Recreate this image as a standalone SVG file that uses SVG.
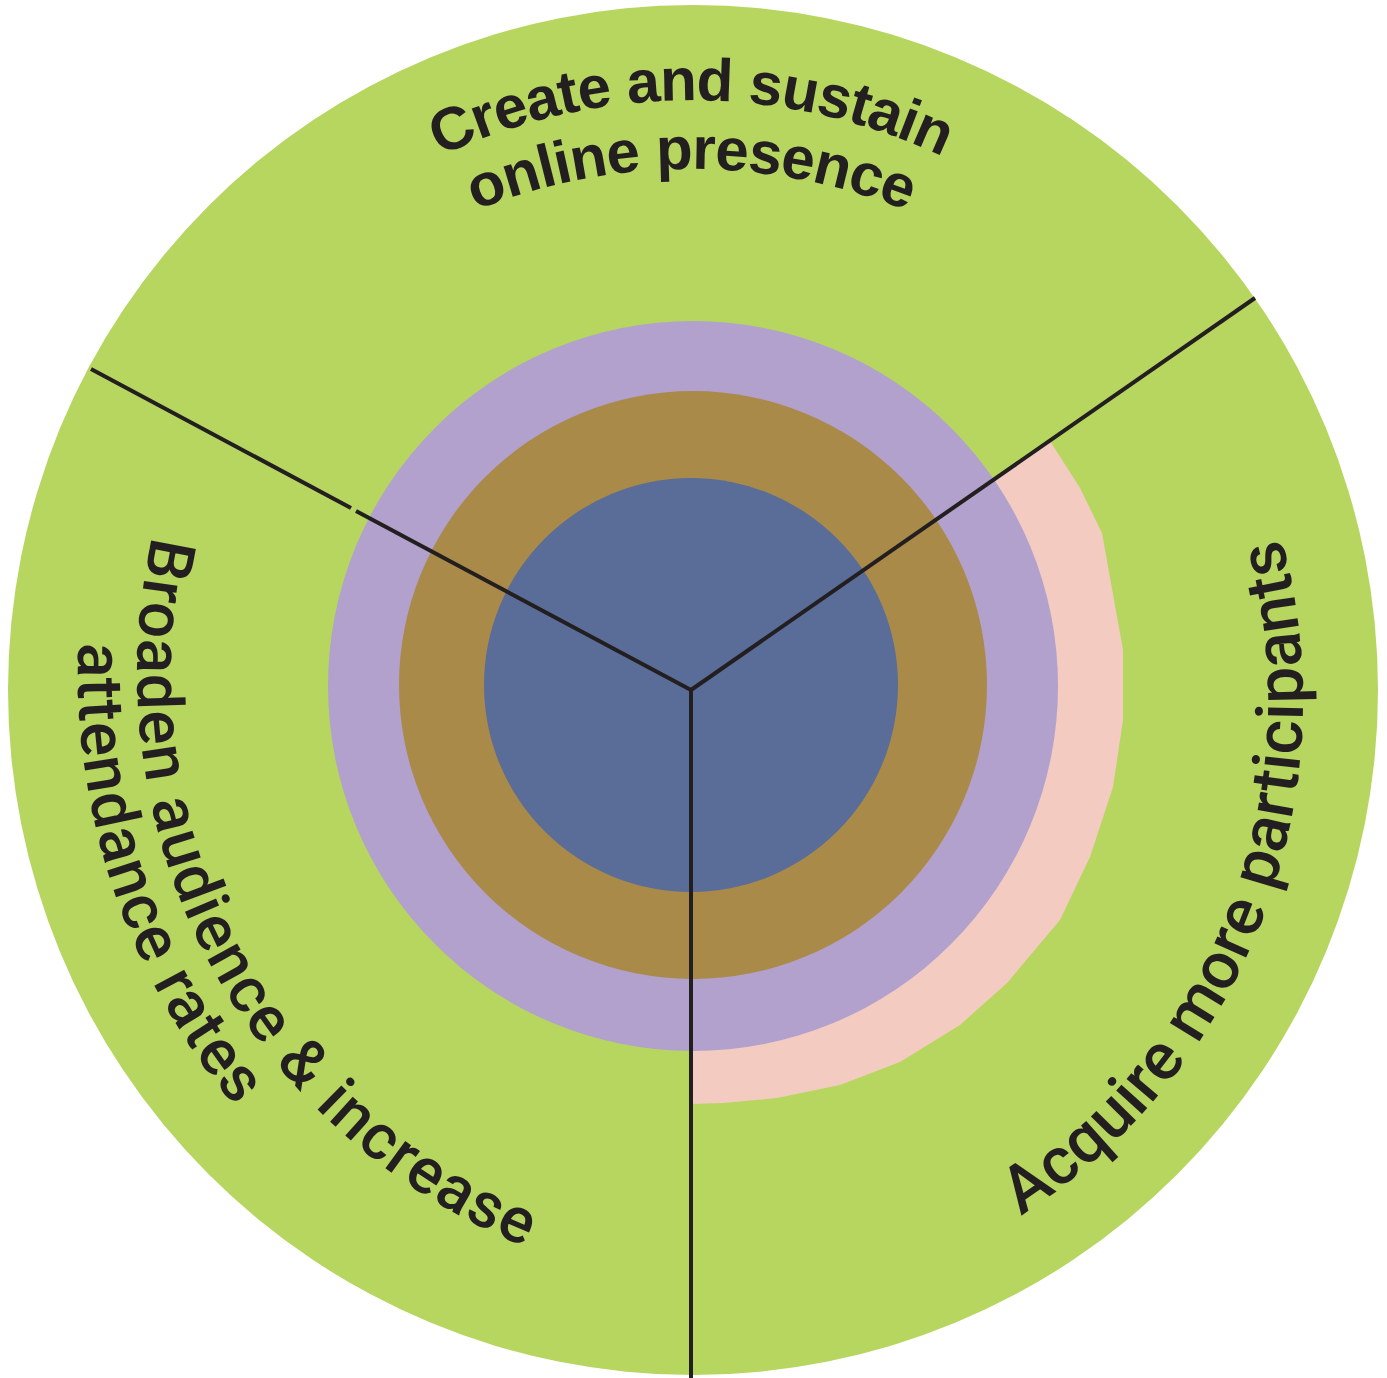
<svg xmlns="http://www.w3.org/2000/svg" width="1387" height="1378" viewBox="0 0 1387 1378">
<style>
.lbl-top{font-family:"Liberation Sans","Arial",sans-serif;font-weight:bold;font-size:60px;letter-spacing:-1px;fill:#231f20}
.lbl-side{font-family:"Roboto","Liberation Sans",sans-serif;font-weight:500;font-size:64px;fill:#231f20}
.lbl-right{font-size:66px;letter-spacing:0.45px}
.ls1{letter-spacing:1.6px}
.ls2{letter-spacing:1.3px}
.conn{stroke:#231f20;stroke-width:4;fill:none}
</style>
<defs>
<path id="pTop1" d="M110,587.6 A590,590 0 0 1 1272,587.6"/>
<path id="pTop2" d="M119.8,648.3 A580,580 0 0 1 1262.2,648.3"/>
<path id="pRight" d="M627,1308.7 A612,612 0 0 0 1050.7,204.9"/>
<path id="pLeft1" d="M335.5,219.2 A618,618 0 0 0 891.4,1275.7"/>
<path id="pLeft2" d="M379.4,109.7 A677,677 0 0 0 798.7,1348.6"/>
</defs>
<g id="outer-circle"><circle cx="693" cy="690" r="685" fill="#b7d660"/></g>
<g id="pink-arc"><polygon points="691,690 1050,441 1080,488 1102,533 1123,650 1123,720 1113,787 1090,857 1060,920 1007,983 960,1025 900,1062 840,1085 777,1098 723,1103 691,1104" fill="#f3cbc1"/></g>
<g id="purple-ring"><circle cx="693" cy="686" r="365" fill="#b1a1cc"/></g>
<g id="brown-ring"><circle cx="693" cy="685" r="294" fill="#aa8a48"/></g>
<g id="blue-core"><circle cx="691" cy="685" r="207" fill="#5a6d98"/></g>
<g id="connectors">
<line class="conn" x1="91" y1="369" x2="351" y2="508"/>
<line class="conn" x1="356" y1="511" x2="691" y2="690"/>
<line class="conn" x1="691" y1="690" x2="1255" y2="298"/>
<line class="conn" x1="691" y1="690" x2="691" y2="1378"/>
</g>
<g id="label-top">
<text class="lbl-top" text-anchor="middle"><textPath href="#pTop1" startOffset="50%">Create and sustain</textPath></text>
<text class="lbl-top" text-anchor="middle"><textPath href="#pTop2" startOffset="50%">online presence</textPath></text>
</g>
<g id="label-right">
<text class="lbl-side lbl-right" text-anchor="middle"><textPath href="#pRight" startOffset="50%">Acquire more participants</textPath></text>
</g>
<g id="label-left">
<text class="lbl-side ls1" text-anchor="middle"><textPath href="#pLeft1" startOffset="50%">Broaden audience &amp; increase</textPath></text>
<text class="lbl-side ls2" text-anchor="middle"><textPath href="#pLeft2" startOffset="50%">attendance rates</textPath></text>
</g>
</svg>
